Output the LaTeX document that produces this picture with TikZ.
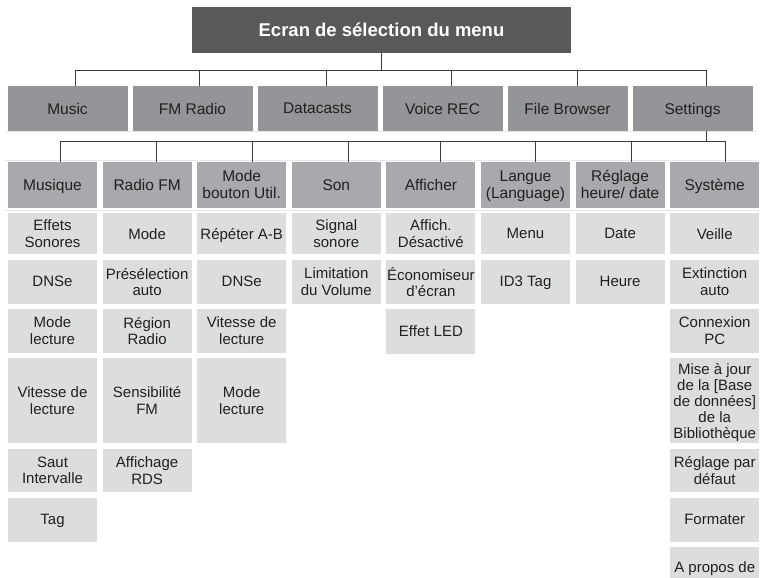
\documentclass[tikz,border=0pt]{standalone}
\usepackage{fontspec}
\setmainfont{Liberation Sans}
\usetikzlibrary{calc}
\definecolor{titlegray}{HTML}{58595B}
\definecolor{topgray}{HTML}{939598}
\definecolor{midgray}{HTML}{A7A9AC}
\definecolor{leafgray}{HTML}{DCDDDF}
\definecolor{ink}{HTML}{231F20}
\definecolor{wirecol}{HTML}{3C3C3C}
\definecolor{rulecol}{HTML}{E6E7E8}
\begin{document}
\begin{tikzpicture}[x=1pt,y=-1pt,
  box/.style={anchor=north west, inner sep=0pt, outer sep=0pt, align=center, text=ink, text depth=0pt, font=\fontsize{15}{16.5}\selectfont},
  titlebox/.style={box, fill=titlegray, text=white, font=\bfseries\fontsize{18.5}{20}\selectfont, minimum width=379pt, minimum height=46pt},
  topbox/.style={box, fill=topgray, minimum width=120pt, minimum height=45pt, font=\fontsize{15.5}{17}\selectfont},
  secbox/.style={box, fill=midgray, minimum width=89pt, minimum height=46.2pt, font=\fontsize{15.5}{17}\selectfont},
  leafbox/.style={box, fill=leafgray, minimum width=89pt},
  link/.style={draw=wirecol, line width=0.9pt},
  faint/.style={draw=rulecol, line width=0.8pt},
]
\clip (0,0) rectangle (760,578);
\fill[white] (0,0) rectangle (760,578);

% title
\node[titlebox] (title) at (192,7) {Ecran de sélection du menu};

% top menu
\node[topbox] (m1) at (7.5,86) {Music};
\node[topbox] (m2) at (132.5,86) {FM Radio};
\node[topbox] (m3) at (257.5,86) {Datacasts};
\node[topbox] (m4) at (382.5,86) {Voice REC};
\node[topbox] (m5) at (507.5,86) {File Browser};
\node[topbox] (m6) at (632.5,86) {Settings};

% settings sections
\node[secbox] (s1) at (8,161.5) {Musique};
\node[secbox] (s2) at (102.6,161.5) {Radio FM};
\node[secbox] (s3) at (197.2,161.5) {Mode\\bouton Util.};
\node[secbox] (s4) at (291.8,161.5) {Son};
\node[secbox] (s5) at (386.4,161.5) {Afficher};
\node[secbox] (s6) at (481,161.5) {Langue\\(Language)};
\node[secbox] (s7) at (575.6,161.5) {Réglage\\heure/ date};
\node[secbox] (s8) at (670.2,161.5) {Système};

% faint rules
\draw[faint] ($(m1.south west)+(-2.5,0.8)$) -- ($(m6.south east)+(5,0.8)$);
\draw[faint] ($(s1.north west)+(-3,-0.8)$) -- ($(s8.north east)+(0,-0.8)$);
\draw[faint] ($(s1.south west)+(-3,2.5)$) -- ($(s8.south east)+(0,2.5)$);

% leaves: Musique
\node[leafbox, minimum height=40.7pt] (a1) at (8,213.3) {Effets\\Sonores};
\node[leafbox, minimum height=43.5pt] (a2) at (8,260) {DNSe};
\node[leafbox, minimum height=43.5pt] (a3) at (8,309) {Mode\\lecture};
\node[leafbox, minimum height=85pt] (a4) at (8,358) {Vitesse de\\lecture};
\node[leafbox, minimum height=43pt] (a5) at (8,449) {Saut\\Intervalle};
\node[leafbox, minimum height=44.2pt] (a6) at (8,497.5) {Tag};
% Radio FM
\node[leafbox, minimum height=40.7pt] (b1) at (102.6,213.3) {Mode};
\node[leafbox, minimum height=43.5pt] (b2) at (102.6,260) {Présélection\\auto};
\node[leafbox, minimum height=43.5pt] (b3) at (102.6,309) {Région\\Radio};
\node[leafbox, minimum height=85pt] (b4) at (102.6,358) {Sensibilité\\FM};
\node[leafbox, minimum height=43pt] (b5) at (102.6,449) {Affichage\\RDS};
% Mode bouton Util.
\node[leafbox, minimum height=40.7pt] (c1) at (197.2,213.3) {Répéter A-B};
\node[leafbox, minimum height=43.5pt] (c2) at (197.2,260) {DNSe};
\node[leafbox, minimum height=43.5pt] (c3) at (197.2,309) {Vitesse de\\lecture};
\node[leafbox, minimum height=85pt] (c4) at (197.2,358) {Mode\\lecture};
% Son
\node[leafbox, minimum height=40.7pt] (d1) at (291.8,213.3) {Signal\\sonore};
\node[leafbox, minimum height=43.5pt] (d2) at (291.8,260) {Limitation\\du Volume};
% Afficher
\node[leafbox, minimum height=40.7pt] (e1) at (386.4,213.3) {Affich.\\Désactivé};
\node[leafbox, minimum height=43.5pt] (e2) at (386.4,260) {Économiseur\\d’écran};
\node[leafbox, minimum height=45pt] (e3) at (386.4,309) {Effet LED};
% Langue
\node[leafbox, minimum height=40.7pt] (f1) at (481,213.3) {Menu};
\node[leafbox, minimum height=43.5pt] (f2) at (481,260) {ID3 Tag};
% Reglage
\node[leafbox, minimum height=40.7pt] (g1) at (575.6,213.3) {Date};
\node[leafbox, minimum height=43.5pt] (g2) at (575.6,260) {Heure};
% Systeme
\node[leafbox, minimum height=40.7pt] (h1) at (670.2,213.3) {Veille};
\node[leafbox, minimum height=43.5pt] (h2) at (670.2,260) {Extinction\\auto};
\node[leafbox, minimum height=43.5pt] (h3) at (670.2,309) {Connexion\\PC};
\node[leafbox, minimum height=85pt, font=\fontsize{15}{16}\selectfont] (h4) at (670.2,358) {Mise à jour\\de la [Base\\de données]\\de la\\Bibliothèque};
\node[leafbox, minimum height=43pt] (h5) at (670.2,449) {Réglage par\\défaut};
\node[leafbox, minimum height=44.2pt] (h6) at (670.2,497.5) {Formater};
\node[leafbox, minimum height=40pt] (h7) at (670.2,547.3) {A propos de};

% connectors: title to top menu
\draw[link] (title.south) -- ++(0,17.7) coordinate (tb);
\draw[link] ($(m1.north)+(7.5,0)$) |- (tb) -| ($(m6.north)+(13.5,0)$);
\foreach \n/\d in {m2/6.5, m3/8.5, m4/8.5, m5/9.5}
  \draw[link] ($(\n.north)+(\d,0)$) |- (tb);

% settings to sections
\draw[link] ($(m6.south)+(13.5,0)$) -- ++(0,10) coordinate (sb);
\foreach \n/\d in {s1/7.5, s2/8.9, s3/10.3, s4/11.7, s5/9.1, s6/9.5, s7/10.9, s8/10.3}
  \draw[link] ($(\n.north)+(\d,0)$) |- (sb);
\end{tikzpicture}
\end{document}
